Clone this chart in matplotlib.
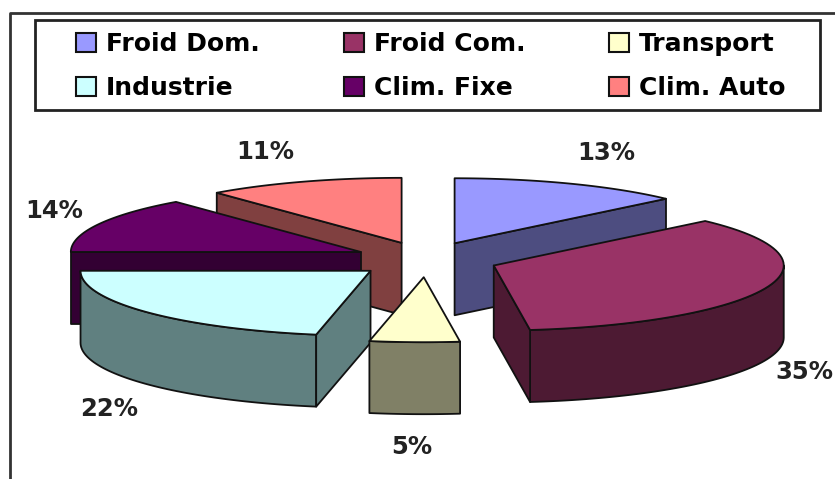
import numpy as np
import matplotlib
matplotlib.use("Agg")
import matplotlib.pyplot as plt
from matplotlib.patches import Patch, Polygon, Rectangle

categories = ["Froid Dom.", "Froid Com.", "Transport", "Industrie", "Clim. Fixe", "Clim. Auto"]
values = [13, 35, 5, 22, 14, 11]
colors = ["#9999FF", "#993366", "#FFFFCC", "#CCFFFF", "#660066", "#FF8080"]
side_colors = ["#4D4D80", "#4D1A33", "#808066", "#608080", "#330033", "#804040"]

# pie geometry, in pixels of the 835x479 picture
CX, CY = 426, 259.5
RX, RY = 290, 65
DEPTH = 72
EXPLODE_X, EXPLODE_Y = 72, 17.7


def rim(apex, a0, a1, n=60):
    a = np.radians(np.linspace(a0, a1, n))
    return np.column_stack([apex[0] + RX * np.sin(a), apex[1] - RY * np.cos(a)])


def draw_slice(ax, a0, a1, color, side):
    mid = np.radians((a0 + a1) / 2)
    apex = np.array([CX + EXPLODE_X * np.sin(mid), CY - EXPLODE_Y * np.cos(mid)])
    down = np.array([0, DEPTH])
    edge = dict(edgecolor="#111111", linewidth=1.3, joinstyle="round")

    # only the walls that face the viewer, lid on top
    lo, hi = max(a0, 90), min(a1, 270)
    if hi > lo:
        arc = rim(apex, lo, hi)
        ax.add_patch(Polygon(np.vstack([arc, (arc + down)[::-1]]), facecolor=side, **edge))
    visible = []
    if np.sin(np.radians(a0)) < -1e-9:
        visible.append(a0)
    if np.sin(np.radians(a1)) > 1e-9:
        visible.append(a1)
    for a in visible:
        p = rim(apex, a, a, 1)[0]
        ax.add_patch(Polygon([apex, p, p + down, apex + down], facecolor=side, **edge))
    ax.add_patch(Polygon(np.vstack([[apex], rim(apex, a0, a1)]), facecolor=color, **edge))


fig = plt.figure(figsize=(8.35, 4.79), dpi=100)
ax = fig.add_axes([0, 0, 1, 1])
ax.set_xlim(0, 835)
ax.set_ylim(479, 0)
ax.axis("off")

# chart frame
ax.plot([10, 10, 835], [479, 13, 13], color="#333333", lw=2)

edges = np.cumsum([0] + values) / sum(values) * 360
for i in [5, 0, 4, 1, 3, 2]:
    draw_slice(ax, edges[i], edges[i + 1], colors[i], side_colors[i])

label_xy = [(606, 153), (804, 372), (412, 447), (109, 409), (54, 211), (265, 152)]
for v, (x, y) in zip(values, label_xy):
    ax.text(x, y, f"{v}%", ha="center", va="center", fontsize=17.5, fontweight="bold",
            family="DejaVu Sans", color="#222222", clip_on=True)

# legend box is wider than its content, so it gets its own frame
ax.add_patch(Rectangle((35, 20), 785, 90, facecolor="white", edgecolor="#222222", linewidth=2))

# legend fills column by column
order = [0, 3, 1, 4, 2, 5]
handles = [Patch(facecolor=colors[i], edgecolor="#111111", linewidth=1.5) for i in order]
ax.legend(handles, [categories[i] for i in order], ncol=3, loc="center left",
          bbox_to_anchor=(76 / 835, 1 - 66 / 479), bbox_transform=fig.transFigure,
          frameon=False, prop={"family": "DejaVu Sans", "weight": "bold", "size": 18},
          handlelength=0.8, handleheight=0.8, handletextpad=0.4, columnspacing=3.36,
          labelspacing=0.8, borderpad=0, borderaxespad=0)

fig.savefig("out.png", dpi=100)
